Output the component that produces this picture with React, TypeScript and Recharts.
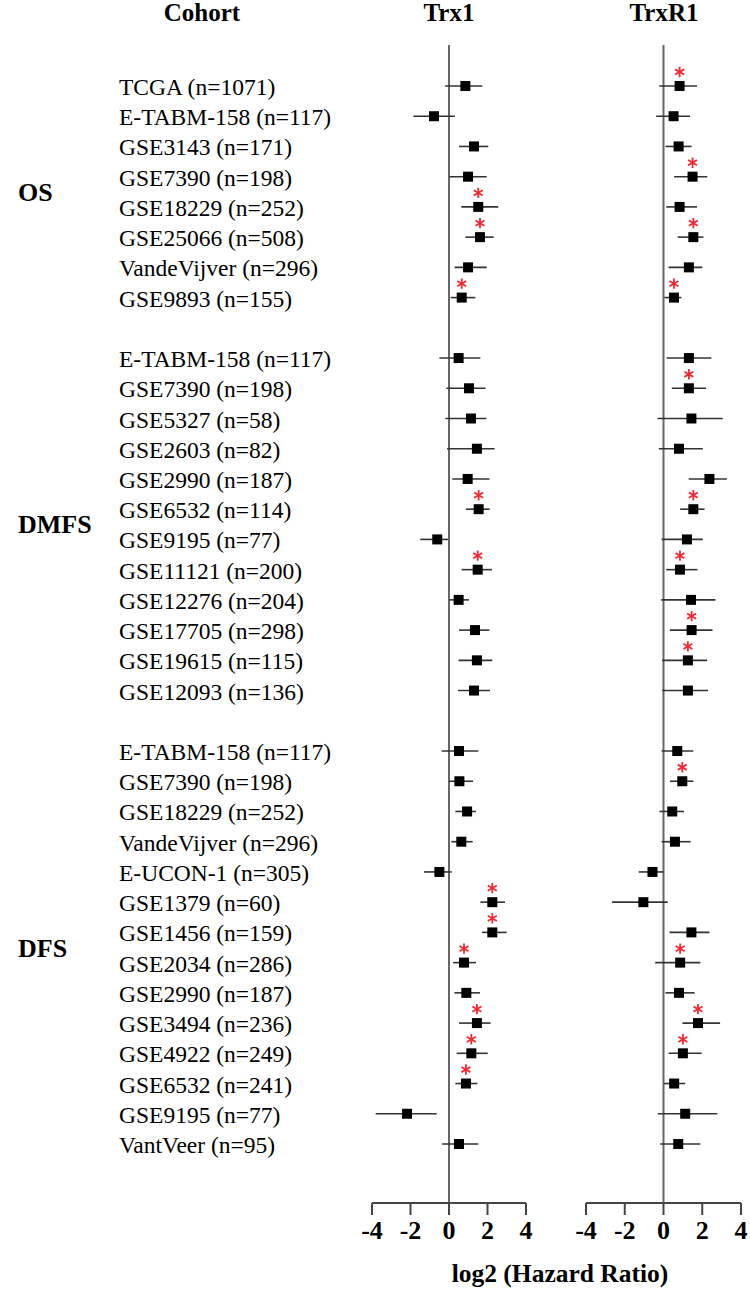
import React from 'react';
import { ScatterChart, Scatter, XAxis, YAxis, ErrorBar, ReferenceLine } from 'recharts';

// ---------- labels ----------
const groupNames = ['OS', 'DMFS', 'DFS'];
const groupSizes = [8, 12, 14];

const cohortLabels = [
  // OS
  'TCGA (n=1071)', 'E-TABM-158 (n=117)', 'GSE3143 (n=171)', 'GSE7390 (n=198)',
  'GSE18229 (n=252)', 'GSE25066 (n=508)', 'VandeVijver (n=296)', 'GSE9893 (n=155)',
  // DMFS
  'E-TABM-158 (n=117)', 'GSE7390 (n=198)', 'GSE5327 (n=58)', 'GSE2603 (n=82)',
  'GSE2990 (n=187)', 'GSE6532 (n=114)', 'GSE9195 (n=77)', 'GSE11121 (n=200)',
  'GSE12276 (n=204)', 'GSE17705 (n=298)', 'GSE19615 (n=115)', 'GSE12093 (n=136)',
  // DFS
  'E-TABM-158 (n=117)', 'GSE7390 (n=198)', 'GSE18229 (n=252)', 'VandeVijver (n=296)',
  'E-UCON-1 (n=305)', 'GSE1379 (n=60)', 'GSE1456 (n=159)', 'GSE2034 (n=286)',
  'GSE2990 (n=187)', 'GSE3494 (n=236)', 'GSE4922 (n=249)', 'GSE6532 (n=241)',
  'GSE9195 (n=77)', 'VantVeer (n=95)',
];

const xTicks = [-4, -2, 0, 2, 4];

// ---------- Trx1 ----------
const trx1Est = [
  0.85, -0.78, 1.3, 0.99, 1.52, 1.61, 0.99, 0.66,
  0.5, 1.04, 1.14, 1.45, 0.97, 1.54, -0.61, 1.49, 0.5, 1.35, 1.45, 1.3,
  0.52, 0.54, 0.94, 0.64, -0.5, 2.25, 2.25, 0.78, 0.9, 1.45, 1.16, 0.88, -2.18, 0.52,
];
const trx1Low = [
  -0.2, -1.85, 0.52, 0.02, 0.64, 0.85, 0.29, 0.09,
  -0.5, -0.14, -0.19, -0.1, 0.17, 0.88, -1.49, 0.66, 0.02, 0.52, 0.5, 0.47,
  -0.38, 0.0, 0.33, 0.12, -1.3, 1.63, 1.71, 0.21, 0.28, 0.52, 0.4, 0.33, -3.81, -0.36,
];
const trx1High = [
  1.73, 0.31, 2.04, 1.96, 2.56, 2.32, 1.96, 1.37,
  1.63, 1.9, 1.94, 2.37, 2.1, 2.11, -0.05, 2.23, 1.04, 2.1, 2.25, 2.13,
  1.52, 1.25, 1.4, 1.23, 0.14, 2.91, 3.0, 1.4, 1.61, 2.16, 2.01, 1.47, -0.64, 1.52,
];
const trx1Star = [
  0, 0, 0, 0, 1, 1, 0, 1,
  0, 0, 0, 0, 0, 1, 0, 1, 0, 0, 0, 0,
  0, 0, 0, 0, 0, 1, 1, 1, 0, 1, 1, 1, 0, 0,
];

// ---------- TrxR1 ----------
const trxr1Est = [
  0.83, 0.52, 0.78, 1.5, 0.83, 1.54, 1.31, 0.54,
  1.31, 1.31, 1.44, 0.8, 2.37, 1.54, 1.21, 0.85, 1.42, 1.45, 1.26, 1.26,
  0.71, 0.97, 0.45, 0.59, -0.57, -1.04, 1.44, 0.86, 0.8, 1.78, 1.0, 0.55, 1.12, 0.76,
];
const trxr1Low = [
  -0.22, -0.38, 0.1, 0.55, 0.14, 0.73, 0.26, 0.05,
  0.16, 0.43, -0.31, -0.24, 1.3, 0.86, -0.1, 0.14, -0.12, 0.33, -0.07, -0.07,
  -0.1, 0.33, -0.21, -0.1, -1.28, -2.65, 0.31, -0.43, 0.1, 0.98, 0.26, 0.02, -0.3, -0.17,
];
const trxr1High = [
  1.73, 1.37, 1.45, 2.26, 1.73, 2.06, 2.0, 0.92,
  2.47, 2.2, 3.06, 2.03, 3.27, 2.12, 2.03, 1.75, 2.68, 2.53, 2.25, 2.3,
  1.54, 1.54, 1.06, 1.4, 0.0, 0.22, 2.37, 1.9, 1.61, 2.92, 1.97, 1.12, 2.78, 1.9,
];
const trxr1Star = [
  1, 0, 0, 1, 0, 1, 0, 1,
  0, 1, 0, 0, 0, 1, 0, 1, 0, 1, 1, 0,
  0, 1, 0, 0, 0, 0, 0, 1, 0, 1, 1, 0, 0, 0,
];

// ---------- derived row slots (one empty slot between groups) ----------
const slots: number[] = [];
const groupCenters: number[] = [];
{
  let s = 0;
  groupSizes.forEach((n) => {
    const start = s;
    for (let i = 0; i < n; i++) slots.push(s++);
    groupCenters.push((start + s - 1) / 2);
    s += 1;
  });
}
const lastSlot = slots[slots.length - 1];
const yDomain: [number, number] = [-1.356, lastSlot + 1.952];

const buildRows = (est: number[], low: number[], high: number[], star: number[]) =>
  est.map((v, i) => ({ y: slots[i], x: v, err: [v - low[i], high[i] - v], star: star[i] }));

const trx1Rows = buildRows(trx1Est, trx1Low, trx1High, trx1Star);
const trxr1Rows = buildRows(trxr1Est, trxr1Low, trxr1High, trxr1Star);

const FONT = "'Liberation Serif', 'Times New Roman', serif";
const CHART_H = 1292;
const MARGIN_TOP = 45;
const X_AXIS_H = 50;
const MARGIN_BOTTOM = 39;

const Square = (p: any) => (
  <rect x={p.cx - 5} y={p.cy - 5} width={10} height={10} fill="#000" />
);

// six-armed asterisk drawn above the marker
const Star = (p: any) => {
  const cx = p.cx;
  const cy = p.cy - 14;
  const r = 5.2;
  const arms = [90, 30, 150].map((deg) => {
    const a = (deg * Math.PI) / 180;
    const dx = r * Math.cos(a);
    const dy = r * Math.sin(a);
    return `M${cx - dx},${cy - dy}L${cx + dx},${cy + dy}`;
  });
  return <path d={arms.join('')} stroke="#ee2a35" strokeWidth={1.8} fill="none" />;
};

const CohortTick = (p: any) => {
  const v = p.payload.value;
  const gi = groupCenters.indexOf(v);
  if (gi >= 0) {
    return (
      <text x={18} y={p.y + 9} fontFamily={FONT} fontSize={26} fontWeight="bold" fill="#000">
        {groupNames[gi]}
      </text>
    );
  }
  const idx = slots.indexOf(v);
  return (
    <text x={119} y={p.y + 9} fontFamily={FONT} fontSize={23.5} fill="#000">
      {cohortLabels[idx]}
    </text>
  );
};

const xTickStyle = { fontFamily: FONT, fontSize: 26, fontWeight: 'bold', fill: '#000' };

const Panel = ({ rows, left, width, marginLeft, marginRight, showLabels }: any) => (
  <div style={{ position: 'absolute', left, top: 0 }}>
    <ScatterChart
      width={width}
      height={CHART_H}
      margin={{ top: MARGIN_TOP, right: marginRight, bottom: MARGIN_BOTTOM, left: marginLeft }}
    >
      <XAxis
        type="number"
        dataKey="x"
        domain={[-4, 4]}
        ticks={xTicks}
        allowDataOverflow
        height={X_AXIS_H}
        tickSize={12}
        tickMargin={6}
        axisLine={{ stroke: '#444', strokeWidth: 2 }}
        tickLine={{ stroke: '#444', strokeWidth: 2 }}
        tick={xTickStyle}
      />
      <YAxis
        type="number"
        dataKey="y"
        domain={yDomain}
        reversed
        allowDataOverflow
        hide={!showLabels}
        width={showLabels ? 372 : 0}
        ticks={showLabels ? [...slots, ...groupCenters] : undefined}
        interval={0}
        axisLine={false}
        tickLine={false}
        tick={showLabels ? <CohortTick /> : false}
      />
      <ReferenceLine x={0} stroke="#666" strokeWidth={2} />
      <Scatter data={rows} shape={Square} isAnimationActive={false}>
        <ErrorBar dataKey="err" direction="x" width={0} stroke="#333" strokeWidth={1.6} />
      </Scatter>
      <Scatter data={rows.filter((r: any) => r.star)} shape={Star} isAnimationActive={false} />
    </ScatterChart>
  </div>
);

export default function App() {
  return (
    <div
      style={{
        position: 'absolute',
        left: 0,
        top: 0,
        width: 750,
        height: 1292,
        background: '#fff',
        overflow: 'hidden',
      }}
    >
      <svg width={750} height={1292} style={{ position: 'absolute', left: 0, top: 0 }}>
        <g fontFamily={FONT} fontWeight="bold" fontSize={25} fill="#000" textAnchor="middle">
          <text x={202} y={21}>Cohort</text>
          <text x={449} y={21}>Trx1</text>
          <text x={664} y={21}>TrxR1</text>
          <text x={560} y={1282} fontSize={25.5}>log2 (Hazard Ratio)</text>
        </g>
      </svg>
      <Panel rows={trx1Rows} left={0} width={560} marginLeft={0} marginRight={34} showLabels />
      <Panel rows={trxr1Rows} left={560} width={190} marginLeft={26} marginRight={9} showLabels={false} />
    </div>
  );
}
